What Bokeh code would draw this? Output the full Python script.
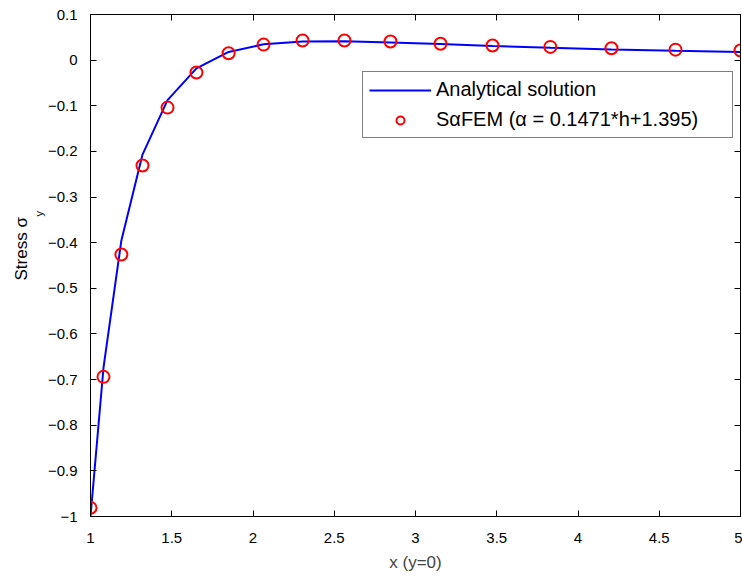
from bokeh.plotting import figure
from bokeh.models import Range1d, LinearAxis, FixedTicker, CustomJSTickFormatter, Title
from bokeh.embed import file_html
from bokeh.resources import INLINE

# ---- data ----
x_nodes = [1.0, 1.08, 1.19, 1.32, 1.474, 1.652, 1.85, 2.065, 2.305, 2.563,
           2.846, 3.154, 3.474, 3.83, 4.206, 4.6, 5.0]
sigma_analytical = [-1.0, -0.674, -0.395, -0.207, -0.0876, -0.0182, 0.018, 0.0348,
                    0.041, 0.0414, 0.0389, 0.0351, 0.0311, 0.0271, 0.0235, 0.0203, 0.0176]
sigma_safem = [-0.981, -0.694, -0.426, -0.231, -0.104, -0.027, 0.015, 0.034,
               0.043, 0.043, 0.041, 0.036, 0.032, 0.029, 0.026, 0.023, 0.021]

x_ticks = [1, 1.5, 2, 2.5, 3, 3.5, 4, 4.5, 5]
y_ticks = [-1, -0.9, -0.8, -0.7, -0.6, -0.5, -0.4, -0.3, -0.2, -0.1, 0, 0.1]

legend_line = "Analytical solution"
legend_circ = "S\u03b1FEM (\u03b1 = 0.1471*h+1.395)"
x_label = "x (y=0)"
y_label = "Stress \u03c3"
y_label_sub = "y"

FONT = "Liberation Sans"

p = figure(width=742, height=580, output_backend="svg", toolbar_location=None,
           x_range=Range1d(1, 5), y_range=Range1d(-1, 0.1),
           min_border_left=90, min_border_right=2, min_border_top=14, min_border_bottom=64)

p.xgrid.visible = False
p.ygrid.visible = False
p.outline_line_color = "black"
p.outline_line_width = 1
p.background_fill_color = "white"
p.border_fill_color = "white"

fmt = CustomJSTickFormatter(code="""
if (Math.abs(tick) < 1e-9) return "0";
const s = parseFloat(Math.abs(tick).toFixed(2)).toString();
return (tick < 0 ? "\\u2212" : "") + s;
""")

def style_axis(ax, ticks, labels=True):
    ax.ticker = FixedTicker(ticks=ticks)
    ax.formatter = fmt
    ax.major_tick_in = 6
    ax.major_tick_out = 0
    ax.minor_tick_line_color = None
    ax.axis_line_color = "black"
    ax.major_tick_line_color = "black"
    ax.major_label_text_font = FONT
    if labels:
        ax.major_label_text_font_size = "15px"
        ax.major_label_text_color = "black"
    else:
        ax.major_label_text_color = None
        ax.major_label_text_font_size = "1px"
        ax.major_label_standoff = 0

style_axis(p.xaxis[0], x_ticks)
style_axis(p.yaxis[0], y_ticks)
p.xaxis[0].major_label_standoff = 16
p.yaxis[0].major_label_standoff = 13
p.xaxis[0].axis_label = x_label
p.xaxis[0].axis_label_text_font = FONT
p.xaxis[0].axis_label_text_font_size = "17px"
p.xaxis[0].axis_label_text_font_style = "normal"
p.xaxis[0].axis_label_standoff = 7

top_ax = LinearAxis()
right_ax = LinearAxis()
style_axis(top_ax, x_ticks, labels=False)
style_axis(right_ax, y_ticks, labels=False)
p.add_layout(top_ax, "above")
p.add_layout(right_ax, "right")

p.line(x_nodes, sigma_analytical, line_color="#0000FF", line_width=2,
       legend_label=legend_line)
p.scatter(x_nodes, sigma_safem, marker="circle", size=12, fill_color=None,
          line_color="#FF0000", line_width=2, legend_label=legend_circ)

# y-axis label "Stress σ_y" built from two side titles (subscript closer to frame)
sub_title = Title(text=y_label_sub, align="left", offset=300, standoff=0,
                  text_font=FONT, text_font_size="11px", text_font_style="normal",
                  text_color="black")
main_title = Title(text=y_label, align="left", offset=236, standoff=0,
                   text_font=FONT, text_font_size="17px", text_font_style="normal",
                   text_color="black")
p.add_layout(sub_title, "left")
p.add_layout(main_title, "left")

lg = p.legend[0]
lg.location = (272, 378)
lg.border_line_color = "black"
lg.border_line_width = 1
lg.background_fill_color = "white"
lg.background_fill_alpha = 1.0
lg.padding = 6
lg.spacing = 7
lg.margin = 0
lg.label_height = 20
lg.glyph_height = 20
lg.glyph_width = 62
lg.label_standoff = 5
lg.label_width = 290
lg.label_text_font = FONT
lg.label_text_font_size = "20px"
lg.label_text_color = "black"

open("out.html", "w").write(file_html(p, INLINE))
